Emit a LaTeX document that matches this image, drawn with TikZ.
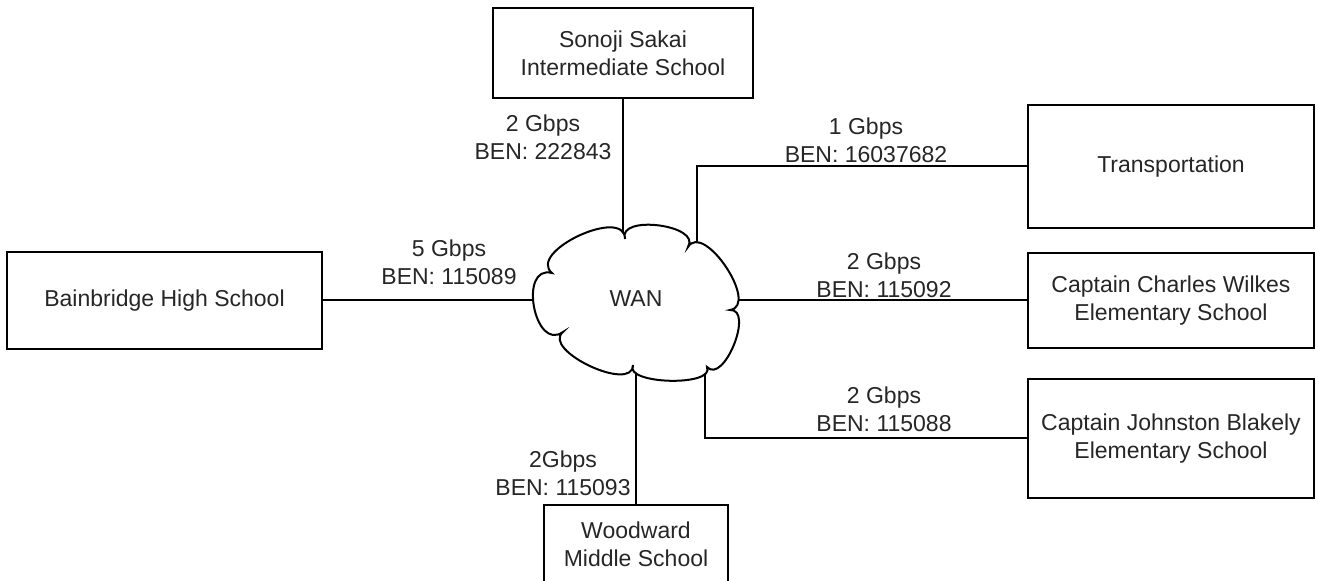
\documentclass[tikz,border=0pt]{standalone}
\usepackage{fontspec}
\setmainfont{Liberation Sans}
\usetikzlibrary{backgrounds}

\begin{document}
\begin{tikzpicture}[x=0.5pt,y=-0.5pt,
    site/.style={draw,line width=1.1pt,align=center,inner sep=0pt,text=black!85,
      font=\fontsize{11.5}{14}\selectfont},
    link/.style={line width=1pt},
    speed/.style={align=center,inner sep=0pt,text=black!85,font=\fontsize{11.5}{14}\selectfont},
    puff/.style={bend left=115}]
  \useasboundingbox (0,0) rectangle (1318,581);
  \clip (0,0) rectangle (1318,581);

  % the WAN cloud
  \draw[line width=1pt,fill=white] (625,239) to[puff,looseness=1.05] (688,247)
    to[puff,looseness=1.02] (730,310) to[puff,looseness=1.02] (707,367)
    to[puff,looseness=0.75] (633,365) to[puff,looseness=0.94] (563,332)
    to[puff,looseness=1.5] (552,273) to[puff,looseness=1.05] (625,239) -- cycle;
  \node[speed] (wan) at (636,299) {WAN};

  % sites
  \node[site,minimum width=130pt,minimum height=45pt] (sonoji) at (623,53) {Sonoji Sakai\\Intermediate School};
  \node[site,minimum width=143pt,minimum height=61.5pt] (transport) at (1171,166.5) {Transportation};
  \node[site,minimum width=157.5pt,minimum height=48.5pt] (bainbridge) at (164.5,300.5) {Bainbridge High School};
  \node[site,minimum width=143pt,minimum height=47.5pt] (wilkes) at (1171,300.5) {Captain Charles Wilkes\\Elementary School};
  \node[site,minimum width=143pt,minimum height=59.5pt] (blakely) at (1171,438.5) {Captain Johnston Blakely\\Elementary School};
  \node[site,minimum width=92pt,minimum height=39pt] (woodward) at (636,544) {Woodward\\Middle School};

  \coordinate (tport) at (697,300);
  \coordinate (bport) at (705,300);

  % links (under the cloud)
  \begin{scope}[on background layer]
    \draw[link] (sonoji.south) -- (sonoji.south |- wan);
    \draw[link] (transport.west) -| (tport);
    \draw[link] (bainbridge.east) -- (bainbridge.east -| wan);
    \draw[link] (wilkes.west) -- (wilkes.west -| wan);
    \draw[link] (blakely.west) -| (bport);
    \draw[link] (woodward.north) -- (woodward.north |- wan);
  \end{scope}

  % link labels
  \node[speed] (lsonoji) at (543,137) {2 Gbps\\BEN: 222843};
  \node[speed] (ltransport) at (866,140) {1 Gbps\\BEN: 16037682};
  \node[speed] (lbainbridge) at (449,262) {5 Gbps\\BEN: 115089};
  \node[speed] (lwilkes) at (884,275) {2 Gbps\\BEN: 115092};
  \node[speed] (lblakely) at (884,409) {2 Gbps\\BEN: 115088};
  \node[speed] (lwoodward) at (563,473) {2Gbps\\BEN: 115093};
\end{tikzpicture}
\end{document}
